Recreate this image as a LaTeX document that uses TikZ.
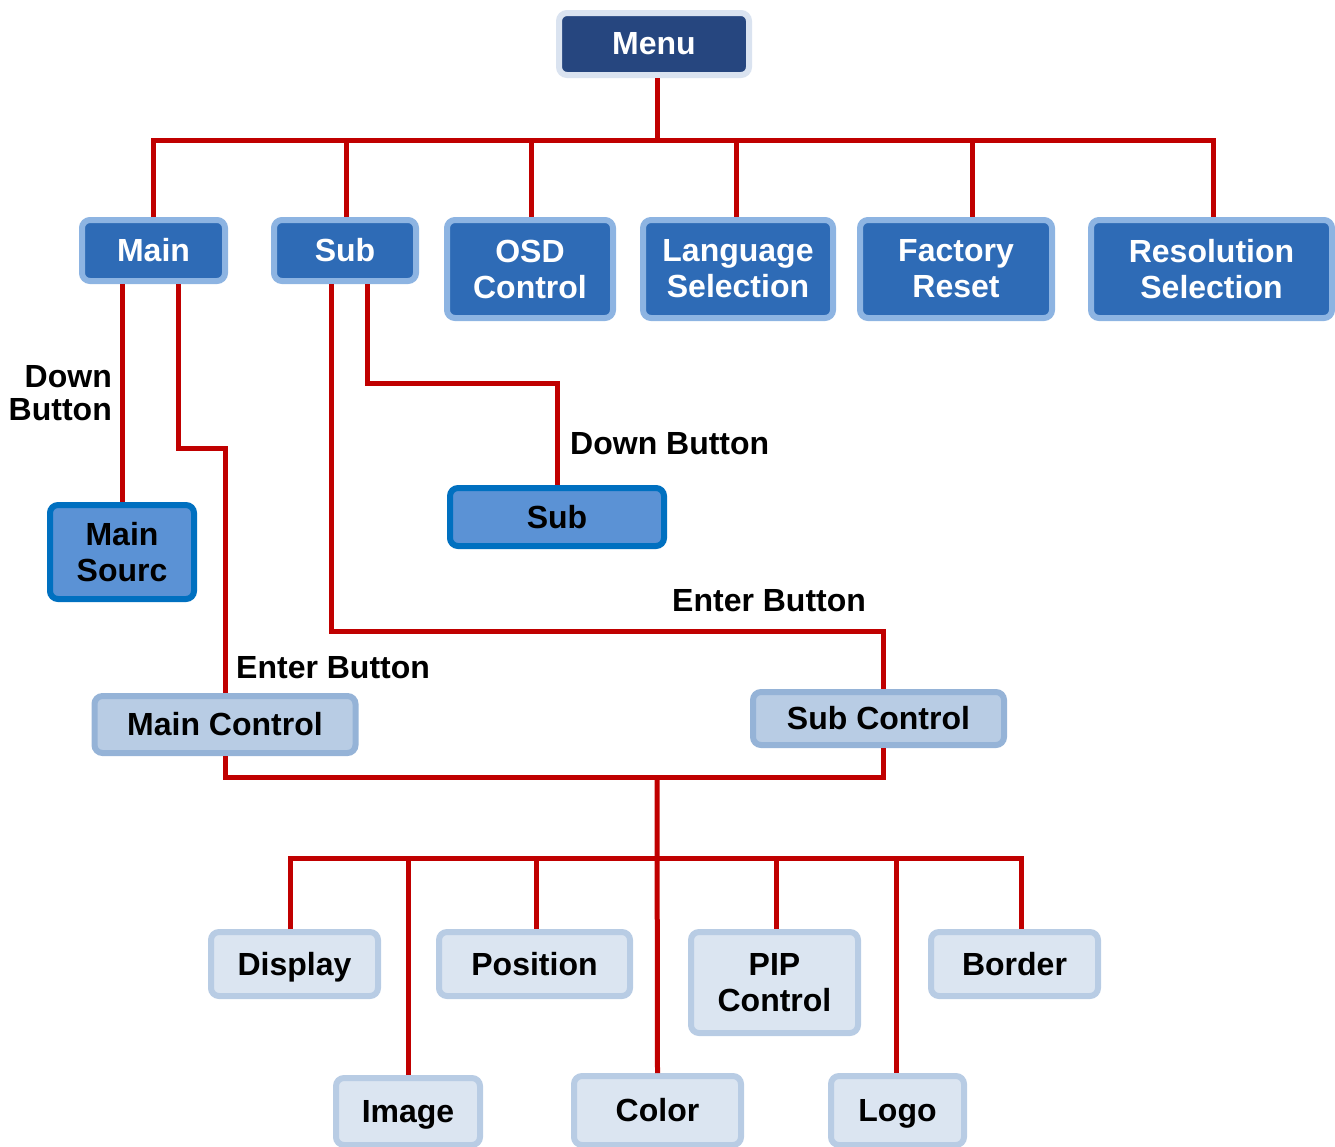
\documentclass[tikz,border=0pt]{standalone}
\usepackage{fontspec}
\setmainfont{Liberation Sans}
\definecolor{wirered}{RGB}{192,0,0}
\definecolor{menuF}{RGB}{38,70,127}
\definecolor{menuB}{RGB}{218,227,240}
\definecolor{topF}{RGB}{46,107,182}
\definecolor{topB}{RGB}{141,180,226}
\definecolor{srcF}{RGB}{91,146,213}
\definecolor{srcB}{RGB}{0,112,192}
\definecolor{ctrlF}{RGB}{184,204,228}
\definecolor{ctrlB}{RGB}{149,179,215}
\definecolor{leafF}{RGB}{219,229,241}
\definecolor{leafB}{RGB}{184,204,228}
\begin{document}
\begin{tikzpicture}[x=1pt,y=-1pt,
  box/.style={rounded corners=8pt, line width=6pt, align=center, inner sep=0pt,
    font=\fontsize{32}{36}\selectfont\bfseries},
  menubox/.style={box, draw=menuB, fill=menuF, text=white},
  topbox/.style={box, draw=topB, fill=topF, text=white},
  srcbox/.style={box, draw=srcB, fill=srcF, text=black},
  ctrlbox/.style={box, draw=ctrlB, fill=ctrlF, text=black},
  leafbox/.style={box, draw=leafB, fill=leafF, text=black},
  wire/.style={draw=wirered, line width=5pt, line join=miter},
  lbl/.style={inner sep=0pt, font=\fontsize{32}{33}\selectfont\bfseries, text=black}]
\clip (0,0) rectangle (1335,1146);
% boxes
\node[menubox, minimum width=190pt, minimum height=62pt] (menu) at (654,44) {Menu};
\node[topbox, minimum width=143pt, minimum height=61pt] (main) at (153.5,250.5) {Main};
\node[topbox, minimum width=142pt, minimum height=61pt] (sub) at (345,250.5) {Sub};
\node[topbox, minimum width=166pt, minimum height=98pt] (osd) at (530,269) {OSD\\Control};
\node[topbox, minimum width=190pt, minimum height=98pt] (lang) at (738,269) {Language\\Selection};
\node[topbox, minimum width=192pt, minimum height=98pt] (fac) at (956,269) {Factory\\Reset};
\node[topbox, minimum width=241pt, minimum height=98pt] (res) at (1211.5,269) {Resolution\\Selection};
\node[srcbox, minimum width=144pt, minimum height=94pt] (msrc) at (122,552) {Main\\Sourc};
\node[srcbox, minimum width=214pt, minimum height=58pt] (sub2) at (557,517) {Sub};
\node[ctrlbox, minimum width=261pt, minimum height=57pt] (mctrl) at (225,724.5) {Main Control};
\node[ctrlbox, minimum width=251pt, minimum height=53pt] (sctrl) at (878.5,718.5) {Sub Control};
\node[leafbox, minimum width=167pt, minimum height=64pt, text depth=0pt] (disp) at (294.5,964) {Display};
\node[leafbox, minimum width=191pt, minimum height=64pt] (pos) at (534.5,964) {Position};
\node[leafbox, minimum width=167pt, minimum height=101pt] (pip) at (774.5,982.5) {PIP\\Control};
\node[leafbox, minimum width=167pt, minimum height=64pt] (bord) at (1014.5,964) {Border};
\node[leafbox, minimum width=144pt, minimum height=67pt, text depth=0pt] (img) at (408,1111.5) {Image};
\node[leafbox, minimum width=167pt, minimum height=69pt] (col) at (657.5,1110.5) {Color};
\node[leafbox, minimum width=133pt, minimum height=69pt, text depth=0pt] (logo) at (897.5,1110.5) {Logo};
% labels
\node[lbl, align=right, anchor=east] (ldown1) at (112,393) {Down\\Button};
\node[lbl, anchor=west] (ldown2) at (570,444) {Down Button};
\node[lbl, anchor=west] (lent1) at (672,601) {Enter Button};
\node[lbl, anchor=west] (lent2) at (236,668) {Enter Button};
% coordinates
\coordinate (tb) at (0,140);
\coordinate (bb) at (0,858);
\coordinate (md) at ([xshift=3pt]menu.south);
\coordinate (rd) at ([xshift=1.5pt]res.north);
\coordinate (fd) at ([xshift=16pt]fac.north);
\coordinate (ld) at ([xshift=-2pt]lang.north);
\coordinate (od) at ([xshift=1pt]osd.north);
\coordinate (sd) at ([xshift=1pt]sub.north);
\coordinate (mk) at (178,448);
\coordinate (sk) at (331,631);
\coordinate (sk2) at (367,383);
\coordinate (sc) at ([xshift=4.5pt]sctrl.north);
\coordinate (scs) at ([xshift=4.5pt]sctrl.south);
\coordinate (jc) at (657,777);
\coordinate (dd) at ([xshift=-4.5pt]disp.north);
\coordinate (bd) at ([xshift=6.5pt]bord.north);
\coordinate (pd) at ([xshift=1.5pt]pos.north);
\coordinate (pipd) at ([xshift=1.5pt]pip.north);
\coordinate (lgd) at ([xshift=-1.5pt]logo.north);
% top tree
\draw[wire] (md) -- (md |- tb);
\draw[wire] (main.north) |- (rd |- tb) -- (rd);
\draw[wire] (sd |- tb) -- (sd);
\draw[wire] (od |- tb) -- (od);
\draw[wire] (ld |- tb) -- (ld);
\draw[wire] (fd |- tb) -- (fd);
% main branches
\draw[wire] (msrc.north |- main.south) -- (msrc.north);
\draw[wire] (mk |- main.south) -- (mk) -| (mctrl.north);
% sub branches
\draw[wire] (sk2 |- sub.south) -- (sk2) -| (sub2.north);
\draw[wire] (sk |- sub.south) -- (sk) -| (sc);
% join of controls
\draw[wire] (mctrl.south) |- (jc) -| (scs);
\draw[wire] (jc) -- (col.north);
% bottom bus
\draw[wire] (dd) |- (bd |- bb) -- (bd);
\draw[wire] (img.north |- bb) -- (img.north);
\draw[wire] (pd |- bb) -- (pd);
\draw[wire] (pipd |- bb) -- (pipd);
\draw[wire] (lgd |- bb) -- (lgd);
\end{tikzpicture}
\end{document}
